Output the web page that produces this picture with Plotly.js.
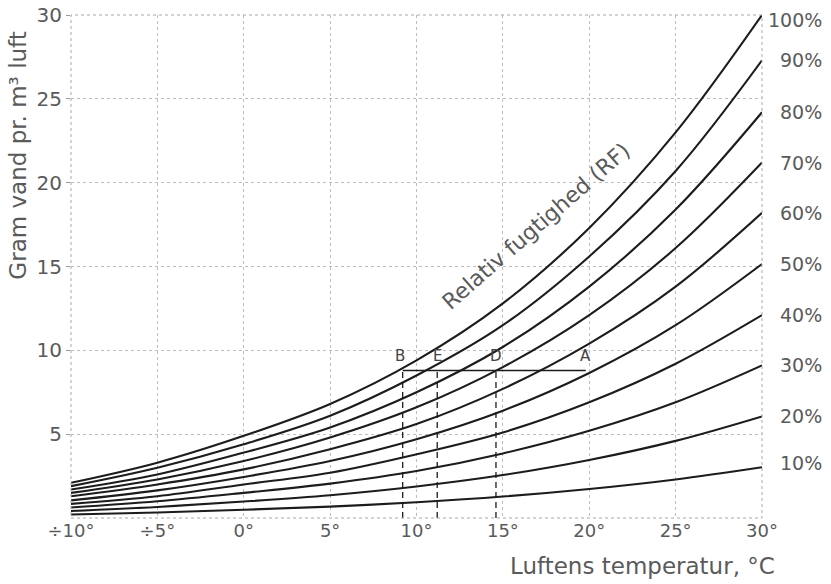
<!DOCTYPE html>
<html>
<head>
<meta charset="utf-8">
<script src="https://cdn.plot.ly/plotly-3.0.1.min.js"></script>
<style>html,body{margin:0;padding:0;background:#fff;}#chart{width:831px;height:584px;}</style>
</head>
<body>
<div id="chart"></div>
<script>
// Temperatures (°C)
const temps = [-10, -5, 0, 5, 10, 15, 20, 25, 30];
// Relative humidity labels
const rhLabels = ['100%', '90%', '80%', '70%', '60%', '50%', '40%', '30%', '20%', '10%'];
// Grams water per m³ air
const rh100 = [2.1, 3.3, 4.9, 6.8, 9.4, 12.8, 17.3, 23.0, 30.0];
const rh90  = [1.9, 3.0, 4.4, 6.1, 8.5, 11.5, 15.6, 20.7, 27.3];
const rh80  = [1.7, 2.6, 3.9, 5.4, 7.5, 10.2, 13.8, 18.4, 24.2];
const rh70  = [1.5, 2.3, 3.4, 4.8, 6.6, 9.0, 12.1, 16.1, 21.2];
const rh60  = [1.3, 2.0, 2.9, 4.1, 5.6, 7.7, 10.4, 13.8, 18.2];
const rh50  = [1.05, 1.65, 2.45, 3.4, 4.7, 6.4, 8.65, 11.5, 15.15];
const rh40  = [0.84, 1.3, 2.0, 2.7, 3.8, 5.1, 6.9, 9.2, 12.1];
const rh30  = [0.63, 1.0, 1.5, 2.05, 2.8, 3.85, 5.2, 6.9, 9.1];
const rh20  = [0.42, 0.66, 0.98, 1.36, 1.88, 2.56, 3.46, 4.6, 6.06];
const rh10  = [0.21, 0.33, 0.49, 0.68, 0.94, 1.28, 1.73, 2.3, 3.03];
const curves = [rh100, rh90, rh80, rh70, rh60, rh50, rh40, rh30, rh20, rh10];

// Example points B, E, D, A
const markLabels = ['B', 'E', 'D', 'A'];
const markX = [9.2, 11.2, 14.6, 19.8];
const markY = 8.8;

// Axis ticks
const xTickVals = [-10, -5, 0, 5, 10, 15, 20, 25, 30];
const xTickText = ['÷10°', '÷5°', '0°', '5°', '10°', '15°', '20°', '25°', '30°'];
const yTickVals = [5, 10, 15, 20, 25, 30];
const yTickText = ['5', '10', '15', '20', '25', '30'];

const FONT = '"DejaVu Sans", Verdana, sans-serif';
const TXT = '#5a5a5a';

const traces = [];
curves.forEach((c, i) => {
  traces.push({
    x: temps, y: c, mode: 'lines', type: 'scatter',
    line: {color: '#1c1c1c', width: 2.1, shape: 'spline', smoothing: 1},
    name: rhLabels[i], hoverinfo: 'skip', showlegend: false
  });
});
// horizontal line B-A
traces.push({
  x: [markX[0], markX[3]], y: [markY, markY], mode: 'lines', type: 'scatter',
  line: {color: '#1c1c1c', width: 1.4}, showlegend: false, hoverinfo: 'skip'
});
// dashed verticals B, E, D
for (let i = 0; i < 3; i++) {
  traces.push({
    x: [markX[i], markX[i]], y: [0, markY], mode: 'lines', type: 'scatter',
    line: {color: '#1c1c1c', width: 1.3, dash: '6px,4px'}, showlegend: false, hoverinfo: 'skip'
  });
}

const annotations = [];
curves.forEach((c, i) => {
  annotations.push({
    x: temps[temps.length - 1], y: c[c.length - 1], xref: 'x', yref: 'y',
    text: rhLabels[i], showarrow: false, xanchor: 'left', yanchor: 'middle',
    xshift: i === 0 ? 4 : 16, yshift: i === 0 ? -5 : (i === 9 ? 4 : 0),
    font: {family: FONT, size: 19, color: TXT}
  });
});
markLabels.forEach((t, i) => {
  annotations.push({
    x: markX[i], y: markY, xref: 'x', yref: 'y', text: t, showarrow: false,
    xanchor: 'center', yanchor: 'bottom', yshift: 3, xshift: i === 0 ? -3 : 0,
    font: {family: FONT, size: 15, color: '#444'}
  });
});
annotations.push({
  x: 16.9, y: 17.4, xref: 'x', yref: 'y', text: 'Relativ fugtighed (RF)',
  showarrow: false, textangle: -41,
  font: {family: FONT, size: 22, color: TXT}
});
annotations.push({
  x: 1.022, y: -0.096, xref: 'paper', yref: 'paper', text: 'Luftens temperatur, °C',
  showarrow: false, xanchor: 'right', yanchor: 'middle',
  font: {family: FONT, size: 23, color: TXT}
});
annotations.push({
  x: -0.077, y: 0.72, xref: 'paper', yref: 'paper', text: 'Gram vand pr. m³ luft',
  showarrow: false, textangle: -90, xanchor: 'center', yanchor: 'middle',
  font: {family: FONT, size: 23, color: TXT}
});

const layout = {
  width: 831, height: 584,
  margin: {l: 71, r: 69, t: 15, b: 66},
  paper_bgcolor: '#fff', plot_bgcolor: '#fff',
  showlegend: false,
  xaxis: {
    range: [-10, 30], tickvals: xTickVals, ticktext: xTickText,
    showgrid: true, gridcolor: '#bdbdbd', griddash: 'dot', gridwidth: 1,
    zeroline: false, showline: false, ticks: '',
    tickfont: {family: FONT, size: 18, color: TXT}
  },
  yaxis: {
    range: [0, 30], tickvals: yTickVals, ticktext: yTickText,
    showgrid: true, gridcolor: '#bdbdbd', griddash: 'dot', gridwidth: 1,
    zeroline: false, showline: false, ticks: 'outside', ticklen: 4, tickcolor: '#999',
    tickfont: {family: FONT, size: 20, color: TXT}
  },
  shapes: [{
    type: 'rect', xref: 'paper', yref: 'paper', x0: 0, x1: 1, y0: 0, y1: 1,
    line: {color: '#a8a8a8', width: 1, dash: 'dot'}
  }],
  annotations: annotations
};

Plotly.newPlot('chart', traces, layout, {staticPlot: true, displayModeBar: false});
</script>
</body>
</html>
